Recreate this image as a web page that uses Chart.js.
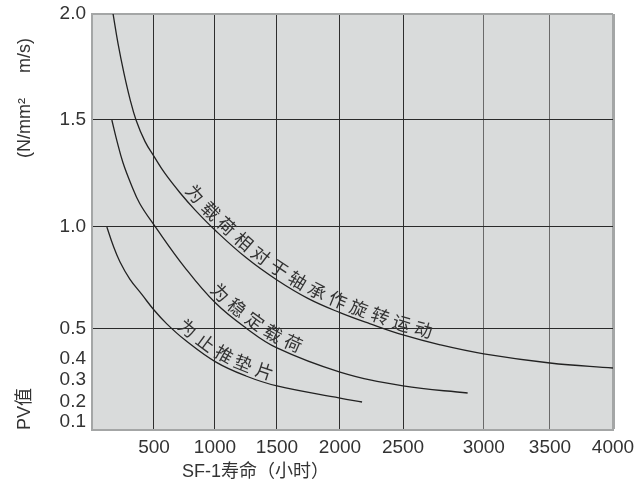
<!DOCTYPE html>
<html>
<head>
<meta charset="utf-8">
<script src="https://cdn.jsdelivr.net/npm/chart.js@4.4.1/dist/chart.umd.min.js"></script>
<style>
  html, body { margin: 0; padding: 0; background: #fff; }
  #wrap { width: 634px; height: 490px; }
</style>
</head>
<body>
<div id="wrap"><canvas id="pv-chart"></canvas></div>
<script>
// axis ticks
var xTicks = [500, 1000, 1500, 2000, 2500, 3000, 3500, 4000];
var yTicks = [0.1, 0.2, 0.3, 0.4, 0.5, 1.0, 1.5, 2.0];

// curves: life (hours) vs PV value
var rotHours = [170, 210, 258, 306, 355, 427, 500, 590, 713, 836, 1000, 1250, 1500, 1745, 2000, 2240, 2500, 2730, 3000, 3500, 4000];
var rotPV    = [2.0, 1.86, 1.72, 1.60, 1.50, 1.40, 1.33, 1.25, 1.16, 1.08, 0.985, 0.85, 0.74, 0.65, 0.58, 0.525, 0.48, 0.447, 0.417, 0.381, 0.357];
var steadyHours = [160, 202, 250, 315, 385, 500, 755, 1005, 1250, 1500, 2000, 2500, 2900];
var steadyPV    = [1.5, 1.40, 1.3, 1.20, 1.11, 1.01, 0.80, 0.627, 0.505, 0.437, 0.338, 0.273, 0.241];
var thrustHours = [120, 170, 225, 305, 405, 500, 605, 755, 1005, 1250, 1500, 2000, 2175];
var thrustPV    = [1.0, 0.91, 0.83, 0.745, 0.667, 0.593, 0.525, 0.463, 0.386, 0.319, 0.273, 0.218, 0.2];

var curveNames = ["为载荷相对于轴承作旋转运动", "为稳定载荷", "为止推垫片"];

// the printed axes are not evenly spaced, so each scale is piecewise linear
var scaleStops = {
  x: { values: [0].concat(xTicks), fracs: [0, 0.119, 0.236, 0.355, 0.476, 0.597, 0.752, 0.879, 1] },
  y: { values: [0].concat(yTicks), fracs: [0, 0.0192, 0.0673, 0.1202, 0.1707, 0.2428, 0.488, 0.7452, 1] }
};

function lerpStops(v, from, to) {
  for (var i = 1; i < from.length; i++) {
    if (v <= from[i] || i === from.length - 1) {
      var t = (v - from[i - 1]) / (from[i] - from[i - 1]);
      return to[i - 1] + t * (to[i] - to[i - 1]);
    }
  }
  return to[0];
}

class StopScale extends Chart.LinearScale {
  static id = 'stops';
  getPixelForValue(value) {
    if (value === null || value === undefined || isNaN(value)) return NaN;
    var s = scaleStops[this.id];
    return this.getPixelForDecimal(lerpStops(value, s.values, s.fracs));
  }
  getValueForPixel(pixel) {
    var s = scaleStops[this.id];
    return lerpStops(this.getDecimalForPixel(pixel), s.fracs, s.values);
  }
}
Chart.register(StopScale);

function points(xs, ys) {
  return xs.map(function (x, i) { return { x: x, y: ys[i] }; });
}

var plotBackground = {
  id: 'plotBackground',
  beforeDraw: function (chart) {
    var a = chart.chartArea, ctx = chart.ctx;
    ctx.save();
    ctx.fillStyle = '#d9dbdb';
    ctx.fillRect(a.left, a.top, a.right - a.left, a.bottom - a.top);
    ctx.restore();
  }
};

// writes each curve's name along the curve, one character at a time
var curveText = {
  id: 'curveText',
  afterDatasetsDraw: function (chart) {
    var ctx = chart.ctx, xs = chart.scales.x;
    ctx.save();
    ctx.fillStyle = '#333';
    ctx.font = "18px 'Noto Sans CJK SC', sans-serif";
    ctx.textAlign = 'center';
    ctx.textBaseline = 'middle';
    chart.data.datasets.forEach(function (ds, di) {
      var pts = chart.getDatasetMeta(di).data;
      var s = [];
      for (var i = 0; i < pts.length - 1; i++) {
        var a = pts[i], b = pts[i + 1];
        for (var k = 0; k < 40; k++) {
          var t = k / 40, u = 1 - t;
          s.push({
            x: u*u*u*a.x + 3*u*u*t*a.cp2x + 3*u*t*t*b.cp1x + t*t*t*b.x,
            y: u*u*u*a.y + 3*u*u*t*a.cp2y + 3*u*t*t*b.cp1y + t*t*t*b.y
          });
        }
      }
      var x0 = xs.getPixelForValue(ds.labelFrom);
      s = s.filter(function (p) { return p.x >= x0; });
      var acc = [0];
      for (var j = 1; j < s.length; j++) {
        acc.push(acc[j - 1] + Math.hypot(s[j].x - s[j - 1].x, s[j].y - s[j - 1].y));
      }
      var text = ds.label, step = 23, off = 11, j2 = 0;
      for (var c = 0; c < text.length; c++) {
        var target = c * step;
        while (j2 < s.length - 1 && acc[j2] < target) j2++;
        var q0 = s[Math.max(j2 - 3, 0)], q1 = s[Math.min(j2 + 3, s.length - 1)];
        var ang = Math.atan2(q1.y - q0.y, q1.x - q0.x);
        var p = s[j2];
        ctx.save();
        ctx.translate(p.x + Math.sin(ang) * off, p.y - Math.cos(ang) * off);
        ctx.rotate(ang);
        ctx.fillText(text[c], 0, 0);
        ctx.restore();
      }
    });
    ctx.restore();
  }
};

var font = "'Liberation Sans', 'Noto Sans CJK SC', sans-serif";
var lineStyle = { borderColor: '#222', borderWidth: 1.3, pointRadius: 0, fill: false, tension: 0.4 };

var ctx = document.getElementById('pv-chart').getContext('2d');
var chart = new Chart(ctx, {
  type: 'line',
  data: {
    datasets: [
      Object.assign({ label: curveNames[0], data: points(rotHours, rotPV), labelFrom: 770 }, lineStyle),
      Object.assign({ label: curveNames[1], data: points(steadyHours, steadyPV), labelFrom: 980 }, lineStyle),
      Object.assign({ label: curveNames[2], data: points(thrustHours, thrustPV), labelFrom: 720 }, lineStyle)
    ]
  },
  options: {
    responsive: true,
    maintainAspectRatio: false,
    animation: false,
    layout: { padding: { top: 14, right: 21, bottom: 0, left: 0 } },
    plugins: { legend: { display: false }, tooltip: { enabled: false } },
    scales: {
      x: {
        type: 'stops',
        min: 0,
        max: 4000,
        afterBuildTicks: function (scale) {
          scale.ticks = xTicks.map(function (v) { return { value: v }; });
        },
        afterFit: function (scale) {
          scale.height = 60;
          scale.paddingLeft = 0;
          scale.paddingRight = 0;
        },
        grid: {
          drawTicks: false,
          color: function (c) {
            if (!c.tick) return '#2e2e2e';
            if (c.tick.value === 4000) return '#a4a6a6';
            return c.tick.value >= 3000 ? '#6a6a6a' : '#2e2e2e';
          },
          lineWidth: function (c) { return c.tick && c.tick.value === 4000 ? 3 : 1; }
        },
        border: { color: '#a4a6a6', width: 2 },
        ticks: {
          autoSkip: false,
          maxRotation: 0,
          padding: 6,
          color: '#333',
          font: { family: font, size: 19 },
          callback: function (v) { return String(v); }
        },
        title: {
          display: true,
          align: 'start',
          text: ' '.repeat(18) + 'SF-1寿命（小时）',
          color: '#333',
          font: { family: font, size: 18 },
          padding: { top: 2, bottom: 7 }
        }
      },
      y: {
        type: 'stops',
        min: 0,
        max: 2.0,
        afterBuildTicks: function (scale) {
          scale.ticks = yTicks.map(function (v) { return { value: v }; });
        },
        afterFit: function (scale) {
          scale.width = 92;
          scale.paddingTop = 0;
          scale.paddingBottom = 0;
        },
        grid: {
          drawTicks: false,
          color: function (c) {
            if (!c.tick) return '#2a2a2a';
            if (c.tick.value < 0.5) return 'rgba(0,0,0,0)';
            return c.tick.value === 2.0 ? '#a4a6a6' : '#2a2a2a';
          },
          lineWidth: function (c) { return c.tick && c.tick.value === 2.0 ? 2 : 1; }
        },
        border: { color: '#a4a6a6', width: 2 },
        ticks: {
          autoSkip: false,
          padding: 6,
          color: '#333',
          font: { family: font, size: 19 },
          callback: function (v) { return v.toFixed(1); }
        },
        title: {
          display: true,
          align: 'start',
          text: 'PV值' + ' '.repeat(46) + '(N/mm²     m/s)',
          color: '#333',
          font: { family: font, size: 18 },
          padding: { top: 14, bottom: 0 }
        }
      }
    }
  },
  plugins: [plotBackground, curveText]
});
</script>
</body>
</html>
